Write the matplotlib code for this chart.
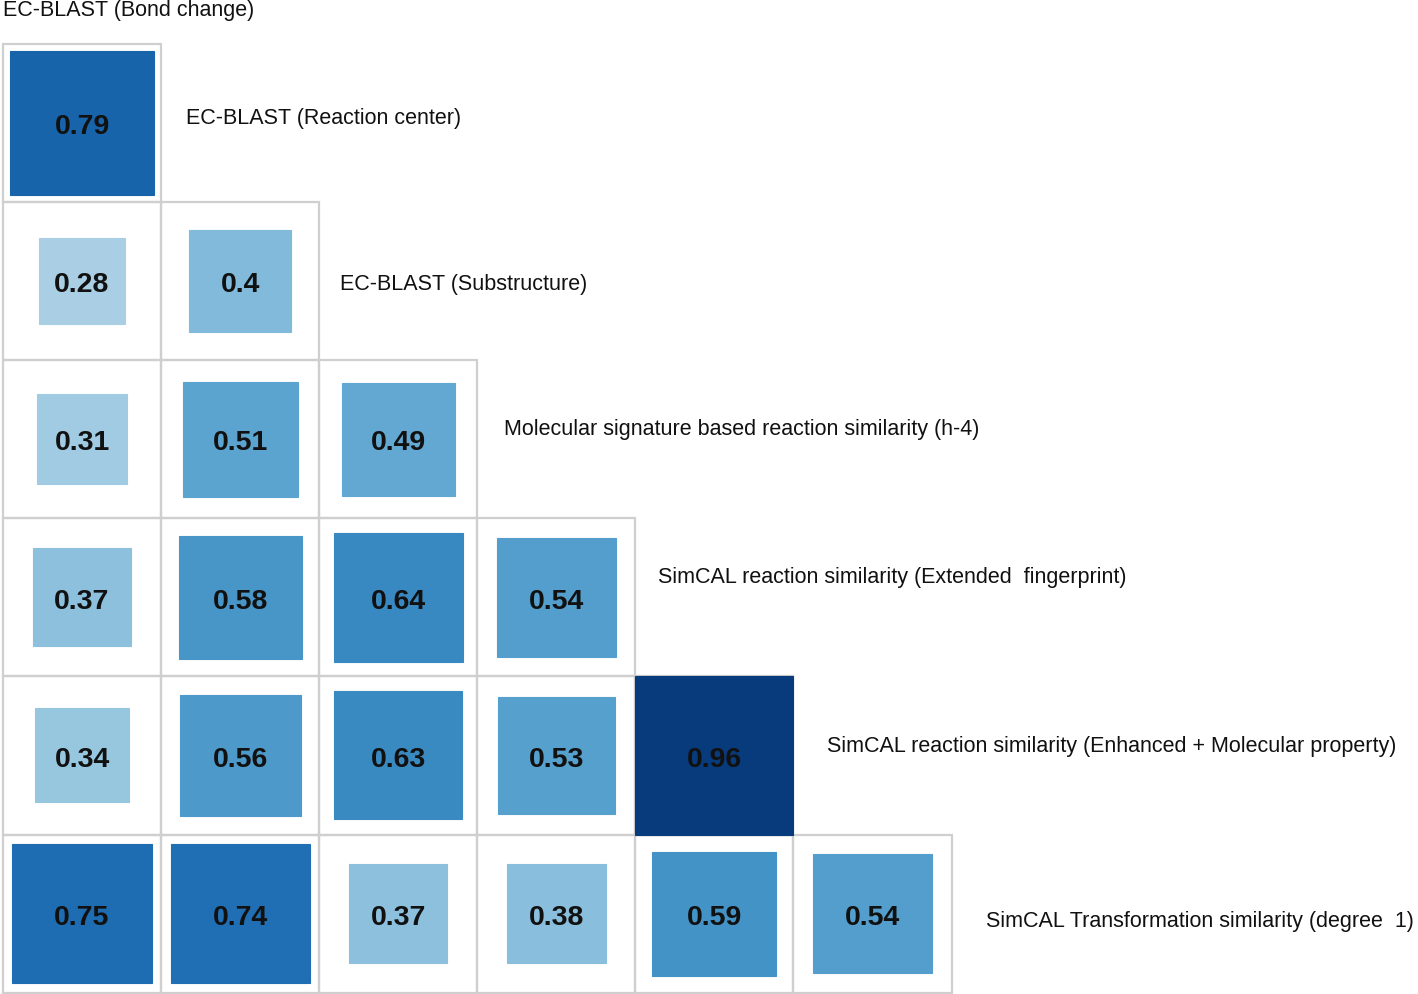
import numpy as np
import matplotlib as mpl
mpl.use("agg")
import matplotlib.pyplot as plt
import matplotlib.colors as colors
from matplotlib.patches import Rectangle

mpl.rcParams['font.family'] = ['Liberation Sans', 'DejaVu Sans']

# method names: first one is the column header, the rest label the rows
top_name = "EC-BLAST (Bond change)"
row_names = [
    "EC-BLAST (Reaction center)",
    "EC-BLAST (Substructure)",
    "Molecular signature based reaction similarity (h-4)",
    "SimCAL reaction similarity (Extended  fingerprint)",
    "SimCAL reaction similarity (Enhanced + Molecular property)",
    "SimCAL Transformation similarity (degree  1)",
]

# lower triangle of the correlation matrix, row by row
row0 = [0.79]
row1 = [0.28, 0.4]
row2 = [0.31, 0.51, 0.49]
row3 = [0.37, 0.58, 0.64, 0.54]
row4 = [0.34, 0.56, 0.63, 0.53, 0.96]
row5 = [0.75, 0.74, 0.37, 0.38, 0.59, 0.54]
rows = [row0, row1, row2, row3, row4, row5]

W, H = 1418, 995
cell = 158.1
x_off, y_off = 3, 45

# where the row labels sit, relative to the diagonal cell (in cell units)
lab_dx = [0.157, 0.132, 0.169, 0.143, 0.212, 0.217]
lab_dy = [0.468, 0.512, 0.435, 0.371, 0.434, 0.547]

fig = plt.figure(figsize=(W / 100, H / 100), dpi=100)
ax = fig.add_axes([0, 0, 1, 1])
ax.set_xlim(-x_off / cell, (W - x_off) / cell)
ax.set_ylim((H - y_off) / cell, -y_off / cell)
ax.axis("off")

cmap = plt.get_cmap("Blues")
norm = colors.Normalize(vmin=-0.09, vmax=1.01)
vmax = max(max(r) for r in rows)

for i, vals in enumerate(rows):
    for j, v in enumerate(vals):
        # grid cell
        ax.add_patch(Rectangle((j, i), 1, 1, fill=False, edgecolor="#cfcfcf", lw=1.6, zorder=1))
        # square with area proportional to value
        s = np.sqrt(v / vmax)
        c = cmap(norm(v))
        ax.add_patch(Rectangle((j + 0.5 - s / 2, i + 0.5 - s / 2), s, s,
                               facecolor=c, edgecolor=c, lw=0.8, zorder=2))
        ax.text(j + 0.5, i + 0.52, f"{v:g}", ha="center", va="center",
                fontsize=20.5, fontweight="bold", color="#111111", zorder=3)
    ax.text(i + 1 + lab_dx[i], i + lab_dy[i], row_names[i], ha="left", va="center",
            fontsize=15.5, color="#111111")

ax.text(0, -0.22, top_name, ha="left", va="center", fontsize=15.5, color="#111111")

fig.savefig("out.png", dpi=100)
